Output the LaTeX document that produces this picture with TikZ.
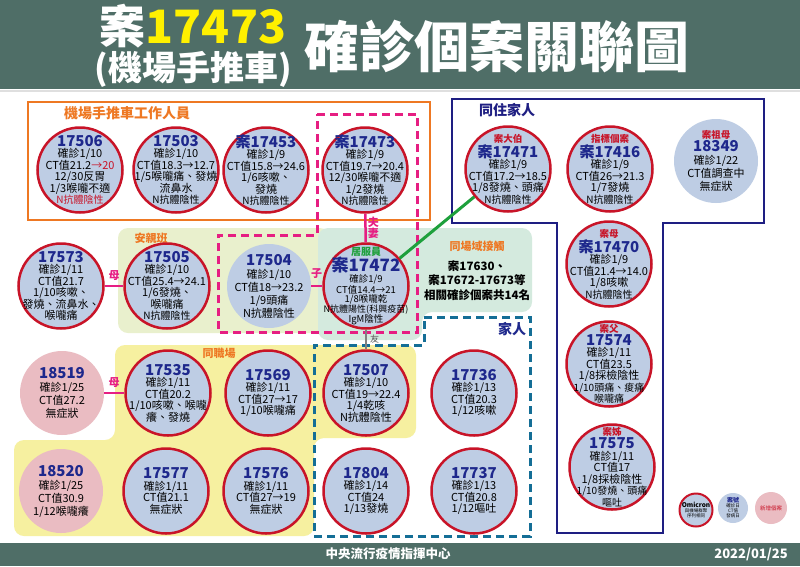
\documentclass[tikz,border=0pt]{standalone}
\usepackage{fontspec}
\setmainfont{Noto Sans CJK TC}
\usetikzlibrary{positioning}
\definecolor{hdr}{RGB}{79,110,103}
\definecolor{titleyel}{RGB}{255,240,0}
\definecolor{orangebox}{RGB}{238,120,35}
\definecolor{navybox}{RGB}{30,30,130}
\definecolor{pinkline}{RGB}{230,30,130}
\definecolor{bluedash}{RGB}{20,110,150}
\definecolor{casefill}{RGB}{190,205,228}
\definecolor{redline}{RGB}{200,20,40}
\definecolor{newfill}{RGB}{234,188,194}
\definecolor{yelbg}{RGB}{246,240,160}
\definecolor{kidbg}{RGB}{233,240,205}
\definecolor{sitebg}{RGB}{212,234,222}
\definecolor{numblue}{RGB}{30,40,140}
\definecolor{greenline}{RGB}{30,160,60}
\tikzset{
  casenode/.style={circle, draw=redline, line width=2.5pt, fill=casefill, minimum size=85pt, inner sep=-40pt, align=center, font=\fontsize{11}{11.5}\selectfont},
  plaincase/.style={circle, fill=casefill, minimum size=84pt, inner sep=-40pt, align=center, font=\fontsize{11}{13}\selectfont},
  newcase/.style={plaincase, fill=newfill},
  grptitle/.style={font=\fontsize{14}{14}\selectfont\bfseries},
  subtitle/.style={font=\fontsize{11}{11}\selectfont\bfseries, text=orangebox},
  relline/.style={line width=2.5pt, draw=pinkline},
  reltxt/.style={font=\fontsize{11}{11}\selectfont\bfseries, text=pinkline, inner sep=1pt, align=center},
}
\newcommand{\num}[1]{{\fontsize{15}{16}\selectfont\bfseries\color{numblue}#1}}
\newcommand{\who}[1]{{\fontsize{9.5}{10}\selectfont\bfseries\color{redline}#1}}
\newcommand{\smalltxt}{\fontsize{10}{11}\selectfont}
\begin{document}
\begin{tikzpicture}[x=1pt,y=-1pt]
\useasboundingbox (0,0) rectangle (800,566);
\fill[white] (0,0) rectangle (800,566);
\fill[hdr] (0,0) rectangle (800,89);
\fill[hdr] (0,543) rectangle (800,566);
\draw[gray!25, line width=2pt] (0,91) -- (800,91);

\node[font=\fontsize{46}{46}\selectfont\bfseries, text=white, inner sep=0pt] (ttlA) at (193,26) {案\textcolor{titleyel}{17473}};
\node[font=\fontsize{34}{34}\selectfont\bfseries, text=white, inner sep=0pt] (ttlB) at (193,69) {(機場手推車)};
\node[font=\fontsize{55}{55}\selectfont\bfseries, text=white] (ttlC) at (497,47) {確診個案關聯圖};
\node[font=\fontsize{12.5}{13}\selectfont\bfseries, text=white] (cdc) at (388,554) {中央流行疫情指揮中心};
\node[font=\fontsize{13}{13}\selectfont\bfseries, text=white] (date) at (751,554) {2022/01/25};

\draw[orangebox, line width=2.5pt] (28,102) rectangle (430,220);
\node[grptitle, text=orangebox] (tWork) at (127,113) {機場手推車工作人員};
\draw[navybox, line width=2.5pt] (452,99) -- (764,99) -- (764,223) -- (663,223) -- (663,533) -- (557,533) -- (557,223) -- (452,223) -- cycle;
\node[grptitle, text=navybox] (tHome) at (507,110) {同住家人};

\fill[kidbg, rounded corners=10pt] (118,228) rectangle (330,333);
\node[subtitle] (tKid) at (151,238) {安親班};
\fill[sitebg, rounded corners=10pt] (318,228) -- (532,228) -- (532,312) -- (422,312) -- (422,340) -- (318,340) -- cycle;
\fill[yelbg, rounded corners=10pt] (115,345) -- (416,345) -- (416,438) -- (314,438) -- (314,536) -- (14,536) -- (14,440) -- (115,440) -- cycle;
\node[subtitle] (tJob) at (219,353) {同職場};
\draw[pinkline, line width=3pt, dash pattern=on 8pt off 5pt] (317,114) -- (417,114) -- (417,332) -- (218,332) -- (218,235) -- (317,235) -- cycle;
\draw[bluedash, line width=3pt, dash pattern=on 8pt off 5pt] (424,317) -- (530,317) -- (530,536) -- (314,536) -- (314,345) -- (424,345) -- cycle;
\node[grptitle, text=numblue] (tFam) at (512,329) {家人};

\node[casenode] (c17506) at (80,170) {\num{17506}\\確診1/10\\CT值21.2\textcolor{redline}{→20}\\12/30反胃\\1/3喉嚨不適\\{\smalltxt\color{redline}N抗體陰性}};
\node[casenode] (c17503) at (176,170) {\num{17503}\\確診1/10\\CT值18.3→12.7\\1/5喉嚨痛、發燒\\流鼻水\\{\smalltxt N抗體陰性}};
\node[casenode] (c17453) at (266,170) {\num{案17453}\\確診1/9\\CT值15.8→24.6\\1/6咳嗽、\\發燒\\{\smalltxt N抗體陰性}};
\node[casenode] (c17473) at (365,170) {\num{案17473}\\確診1/9\\CT值19.7→20.4\\12/30喉嚨不適\\1/2發燒\\{\smalltxt N抗體陰性}};
\node[casenode] (c17471) at (508,169) {\who{案大伯}\\\num{案17471}\\確診1/9\\CT值17.2→18.5\\1/8發燒、頭痛\\{\smalltxt N抗體陰性}};
\node[casenode] (c17416) at (610,169) {\who{指標個案}\\\num{案17416}\\確診1/9\\CT值26→21.3\\1/7發燒\\{\smalltxt N抗體陰性}};
\node[plaincase] (c18349) at (716,161) {\who{案祖母}\\\num{18349}\\確診1/22\\CT值調查中\\無症狀};

\node[casenode] (c17573) at (61,286) {\num{17573}\\確診1/11\\CT值21.7\\1/10咳嗽、\\發燒、流鼻水、\\喉嚨痛};
\node[casenode] (c17505) at (167,286) {\num{17505}\\確診1/10\\CT值25.4→24.1\\1/6發燒、\\喉嚨痛\\{\smalltxt N抗體陰性}};
\node[plaincase] (c17504) at (269,286) {\num{17504}\\確診1/10\\CT值18→23.2\\1/9頭痛\\N抗體陰性};
\node[casenode, font=\fontsize{9.5}{9.5}\selectfont] (c17472) at (366,286) {{\fontsize{10}{11}\selectfont\bfseries\color{greenline}居服員}\\{\fontsize{17}{18}\selectfont\bfseries\color{numblue}案17472}\\確診1/9\\CT值14.4→21\\1/8喉嚨乾\\{\fontsize{9}{9.5}\selectfont N抗體陽性(科興疫苗)}\\IgM陰性};
\node[font=\fontsize{11.5}{14.5}\selectfont\bfseries, align=center] (site) at (477,271) {{\fontsize{11}{11}\selectfont\color{orangebox}同場域接觸}\\[5pt]案17630、\\案17672-17673等\\相關確診個案共14名};
\node[casenode] (c17470) at (609,264) {\who{案母}\\\num{案17470}\\確診1/9\\CT值21.4→14.0\\1/8咳嗽\\{\smalltxt N抗體陰性}};

\node[newcase] (c18519) at (62,393) {\num{18519}\\確診1/25\\CT值27.2\\無症狀};
\node[casenode] (c17535) at (168,393) {\num{17535}\\確診1/11\\CT值20.2\\1/10咳嗽、喉嚨\\癢、發燒};
\node[casenode] (c17569) at (268,393) {\num{17569}\\確診1/11\\CT值27→17\\1/10喉嚨痛};
\node[casenode] (c17507) at (366,393) {\num{17507}\\確診1/10\\CT值19→22.4\\1/4乾咳\\N抗體陰性};
\node[casenode] (c17736) at (474,393) {\num{17736}\\確診1/13\\CT值20.3\\1/12咳嗽};
\node[casenode] (c17574) at (609,364) {\who{案父}\\\num{17574}\\確診1/11\\CT值23.5\\1/8採檢陰性\\{\smalltxt 1/10頭痛、痠痛}\\{\smalltxt 喉嚨痛}};
\node[casenode] (c17575) at (612,467) {\who{案姊}\\\num{17575}\\確診1/11\\CT值17\\1/8採檢陰性\\{\smalltxt 1/10發燒、頭痛}\\{\smalltxt 嘔吐}};

\node[newcase] (c18520) at (61,491) {\num{18520}\\確診1/25\\CT值30.9\\1/12喉嚨癢};
\node[casenode] (c17577) at (166,491) {\num{17577}\\確診1/11\\CT值21.1\\無症狀};
\node[casenode] (c17576) at (266,491) {\num{17576}\\確診1/11\\CT值27→19\\無症狀};
\node[casenode] (c17804) at (366,491) {\num{17804}\\確診1/14\\CT值24\\1/13發燒};
\node[casenode] (c17737) at (474,491) {\num{17737}\\確診1/13\\CT值20.8\\1/12嘔吐};

\node[casenode, minimum size=33pt, inner sep=0pt, line width=2pt, font=\fontsize{4.5}{5}\selectfont] (lgA) at (696,510) {{\fontsize{6.5}{7}\selectfont\bfseries Omicron}\\與機場群聚\\序列相同};
\node[plaincase, minimum size=30pt, inner sep=0pt, font=\fontsize{4.5}{5}\selectfont] (lgB) at (733,508) {{\fontsize{6}{6.5}\selectfont\bfseries\color{numblue}案號}\\確診日\\CT值\\發病日};
\node[newcase, minimum size=32pt, inner sep=0pt, font=\fontsize{5.5}{6}\selectfont] (lgC) at (771,508) {\textcolor{redline}{新增個案}};

\draw[relline] (c17473) -- (c17472) node[midway, right, reltxt] {夫\\妻};
\draw[relline] (c17504) -- (c17472) node[midway, above=5pt, reltxt] {子};
\draw[relline] (c17573) -- (c17505) node[midway, above=3pt, reltxt] {母};
\draw[relline] (c18519) -- (c17535) node[midway, above=3pt, reltxt] {母};
\draw[gray, line width=1.5pt] (c17472) -- (c17507) node[midway, right, font=\fontsize{9}{9}\selectfont, text=gray!70!black] {友};
\draw[greenline, line width=3pt] (c17472) -- (c17471);
\end{tikzpicture}
\end{document}
